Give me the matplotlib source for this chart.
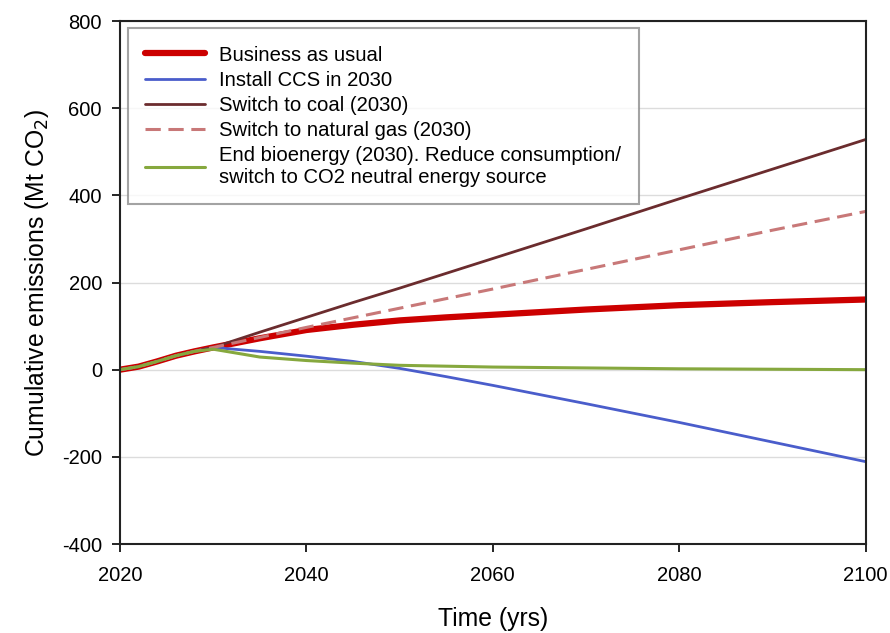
import matplotlib
matplotlib.use("Agg")
import matplotlib.pyplot as plt

plt.rcParams["font.family"] = ["Liberation Sans", "DejaVu Sans"]
plt.rcParams["axes.unicode_minus"] = False

# values (Mt CO2, cumulative)
years_early = [2020, 2022, 2024, 2026, 2028, 2030]
early = [0, 7, 19, 32, 42, 51]

years_late = [2030, 2035, 2040, 2045, 2050, 2055, 2060, 2070, 2080, 2090, 2100]
bau_late = [51, 72, 91, 103, 113, 120, 126, 138, 148, 155, 161]
ccs_late = [51, 42, 31, 19, 3, -16, -36, -78, -121, -166, -211]
coal_late = [51, 86, 120, 154, 187, 221, 255, 323, 392, 460, 528]
gas_late = [51, 74, 97, 119, 141, 163, 185, 230, 275, 320, 363]
bio_late = [47, 29, 21, 15, 10, 8, 6, 4, 2, 1, 0]

labels = [
    "Business as usual",
    "Install CCS in 2030",
    "Switch to coal (2030)",
    "Switch to natural gas (2030)",
    "End bioenergy (2030). Reduce consumption/\nswitch to CO2 neutral energy source",
]

years = years_early + years_late[1:]
series = [
    early + bau_late[1:],
    early + ccs_late[1:],
    early + coal_late[1:],
    early + gas_late[1:],
    early[:-1] + bio_late,
]
styles = [
    dict(color="#CC0000", lw=4.5, ls="-"),
    dict(color="#4A5DCB", lw=2.0, ls="-"),
    dict(color="#6B2C2E", lw=2.0, ls="-"),
    dict(color="#C87878", lw=2.2, ls=(0, (5, 2.5))),
    dict(color="#86A83E", lw=2.2, ls="-"),
]

fig = plt.figure(figsize=(8.9, 6.33), dpi=100)
ax = fig.add_axes([0.1348, 0.1406, 0.8377, 0.8262])

for vals, lab, st in zip(series, labels, styles):
    ax.plot(years, vals, label=lab, solid_capstyle="round", **st)

ax.set_xlim(2020, 2100)
ax.set_ylim(-400, 800)
ax.set_xticks(range(2020, 2101, 20))
ax.set_yticks(range(-400, 801, 200))
ax.yaxis.grid(True, color="#DCDCDC", lw=1)
ax.set_axisbelow(True)

for sp in ax.spines.values():
    sp.set_linewidth(1.5)
    sp.set_color("#222222")
ax.tick_params(direction="out", length=6, width=1.2, labelsize=14.5)
ax.tick_params(axis="x", pad=10)
ax.tick_params(axis="y", pad=7)

ax.set_xlabel("Time (yrs)", fontsize=17.8, labelpad=16)
ax.set_ylabel("Cumulative emissions (Mt CO$_2$)", fontsize=17.8, labelpad=8)

leg = ax.legend(loc="upper left", bbox_to_anchor=(0.011, 0.986), borderaxespad=0,
                fontsize=14.6, handlelength=2.95, handletextpad=0.7, labelspacing=0.3,
                frameon=True, fancybox=False, borderpad=0.85)
leg.get_frame().set_edgecolor("#8C8C8C")
leg.get_frame().set_linewidth(1.5)

fig.savefig("out.png", dpi=100)
